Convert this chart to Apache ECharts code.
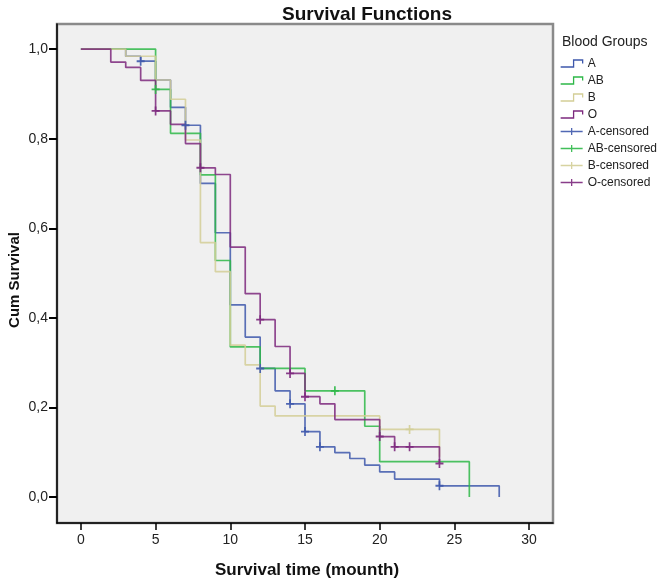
<!DOCTYPE html>
<html>
<head>
<meta charset="utf-8">
<script src="https://cdn.jsdelivr.net/npm/echarts@6/dist/echarts.min.js"></script>
<style>
html,body{margin:0;padding:0;background:#fff;}
#chart{width:663px;height:580px;}
</style>
</head>
<body>
<div id="chart"></div>
<script>
// ---- data (time in months, cumulative survival) ----
const timesA = [0,3,4,5,6,7,8,9,10,11,12,13,14,15,16,17,18,19,20,21,24,28];
const survA  = [1.0,0.984,0.973,0.931,0.870,0.830,0.700,0.590,0.429,0.357,0.287,0.237,0.208,0.146,0.112,0.099,0.086,0.071,0.056,0.040,0.025,0.0];
const timesAB = [0,5,6,8,9,10,12,15,19,20,26];
const survAB  = [1.0,0.910,0.812,0.719,0.528,0.335,0.287,0.237,0.158,0.079,0.0];
const timesB = [0,3,5,6,7,8,9,10,11,12,13,20,24];
const survB  = [1.0,0.984,0.931,0.888,0.797,0.568,0.503,0.339,0.295,0.203,0.181,0.151,0.09];
const timesO = [0,2,3,4,5,6,7,8,9,10,11,12,13,14,15,16,17,20,21,24];
const survO  = [1.0,0.971,0.959,0.930,0.862,0.832,0.789,0.735,0.720,0.558,0.454,0.396,0.336,0.276,0.224,0.208,0.173,0.135,0.112,0.075];

const censTimesA = [4,7,12,14,15,16,24];
const censSurvA  = [0.973,0.830,0.287,0.208,0.146,0.112,0.025];
const censTimesAB = [5,17];
const censSurvAB  = [0.910,0.237];
const censTimesB = [22];
const censSurvB  = [0.151];
const censTimesO = [5,8,12,14,15,20,21,22,24];
const censSurvO  = [0.862,0.735,0.396,0.276,0.224,0.135,0.112,0.112,0.075];

const groupNames = ['A','AB','B','O'];
const censNames = ['A-censored','AB-censored','B-censored','O-censored'];
const xTicks = [0,5,10,15,20,25,30];
const yTicks = [0,0.2,0.4,0.6,0.8,1.0];

const colors = ['#3E58AC','#2EB848','#D3CE97','#7C287D'];

const zip = (a,b) => a.map((v,i) => [v,b[i]]);
const lineData = [zip(timesA,survA), zip(timesAB,survAB), zip(timesB,survB), zip(timesO,survO)];
const censData = [zip(censTimesA,censSurvA), zip(censTimesAB,censSurvAB), zip(censTimesB,censSurvB), zip(censTimesO,censSurvO)];

const stepIcon = 'path://M0,6L10,6L10,0L17,0L17,3';
const plusIcon = 'path://M0,5L20,5M10,0L10,10';
const plusSymbol = 'path://M0,5L10,5M5,0L5,10';

const series = [];
groupNames.forEach((n,i) => {
  series.push({
    name: n, type: 'line', step: 'end', symbol: 'none',
    data: lineData[i],
    lineStyle: {color: colors[i], width: 1.7, opacity: 0.85},
    itemStyle: {color: colors[i]},
    z: 2 + i, silent: true
  });
});
censNames.forEach((n,i) => {
  series.push({
    name: n, type: 'scatter', symbol: plusSymbol, symbolSize: [8,9],
    data: censData[i],
    itemStyle: {color: 'transparent', borderColor: colors[i], borderWidth: 1.8, opacity: 0.9},
    z: 10 + i, silent: true
  });
});

const legendData = groupNames.map((n,i) => ({
  name: n, icon: stepIcon,
  itemStyle: {color: 'transparent', borderColor: colors[i], borderWidth: 1.3}
})).concat(censNames.map((n,i) => ({
  name: n, icon: plusIcon,
  itemStyle: {color: 'transparent', borderColor: colors[i], borderWidth: 1.3}
})));

const chart = echarts.init(document.getElementById('chart'), null, {renderer: 'canvas'});
chart.setOption({
  animation: false,
  backgroundColor: '#ffffff',
  textStyle: {fontFamily: 'Liberation Sans, Arial, sans-serif'},
  title: {
    text: 'Survival Functions', left: 277, top: 0,
    textStyle: {fontSize: 19, fontWeight: 'bold', color: '#111', fontFamily: 'Liberation Sans, Arial, sans-serif'}
  },
  grid: {
    left: 57, right: 110, top: 24, bottom: 57,
    show: true, backgroundColor: '#f0f0f0', borderColor: '#8a8a8a', borderWidth: 2.5
  },
  legend: {
    orient: 'vertical', left: 555, top: 52,
    itemWidth: 22, itemHeight: 7, itemGap: 4,
    symbolKeepAspect: false, selectedMode: false,
    textStyle: {fontSize: 12, lineHeight: 13, color: '#222', fontFamily: 'Liberation Sans, Arial, sans-serif'},
    data: legendData
  },
  graphic: [
    {type: 'text', left: 562, top: 35, style: {text: 'Blood Groups', fontSize: 14, fill: '#222', fontFamily: 'Liberation Sans, Arial, sans-serif'}},
    {type: 'text', x: 15, y: 280, rotation: Math.PI/2,
     style: {text: 'Cum Survival', fontSize: 15, fontWeight: 'bold', fill: '#111', textAlign: 'center', textVerticalAlign: 'middle', fontFamily: 'Liberation Sans, Arial, sans-serif'}},
    {type: 'text', x: 307, y: 570,
     style: {text: 'Survival time (mounth)', fontSize: 17, fontWeight: 'bold', fill: '#111', textAlign: 'center', textVerticalAlign: 'middle', fontFamily: 'Liberation Sans, Arial, sans-serif'}}
  ],
  xAxis: {
    type: 'value', min: -1.6, max: 31.6,
    axisLine: {show: true, onZero: false, lineStyle: {color: '#000', width: 1.5}},
    axisTick: {show: true, length: 7, lineStyle: {color: '#000', width: 1.5}, customValues: xTicks},
    axisLabel: {show: true, margin: 10, fontSize: 14, color: '#222', customValues: xTicks, formatter: v => String(v)},
    splitLine: {show: false}
  },
  yAxis: {
    type: 'value', min: -0.058, max: 1.056,
    axisLine: {show: true, onZero: false, lineStyle: {color: '#000', width: 1.5}},
    axisTick: {show: true, length: 8, lineStyle: {color: '#000', width: 2}, customValues: yTicks},
    axisLabel: {show: true, margin: 9, fontSize: 14, color: '#222', customValues: yTicks,
      formatter: v => v.toFixed(1).replace('.', ',')},
    splitLine: {show: false}
  },
  series: series
});
</script>
</body>
</html>
